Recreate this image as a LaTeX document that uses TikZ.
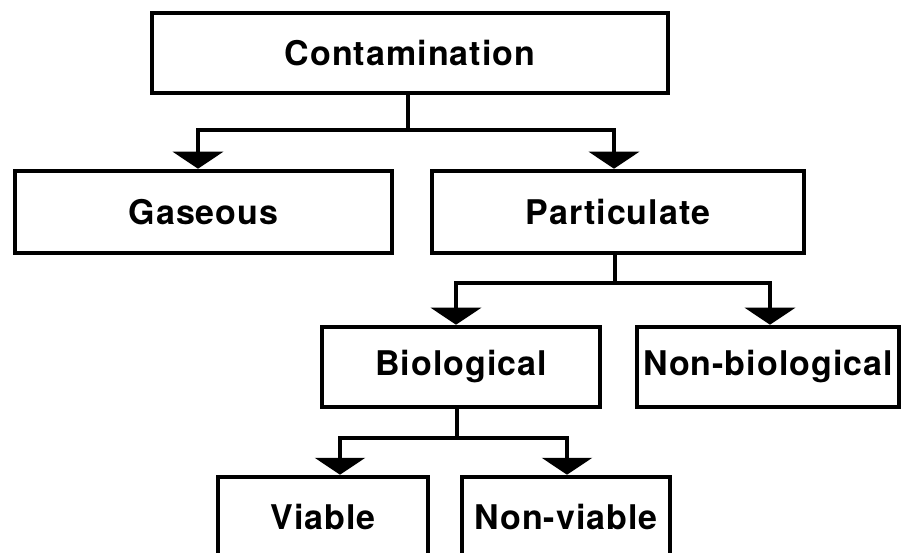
\documentclass[tikz,border=0pt]{standalone}
\usepackage{fontspec}
\setmainfont{TeX Gyre Heros}[LetterSpace=3]
\usetikzlibrary{arrows.meta}

\begin{document}
\begin{tikzpicture}[x=1pt, y=-1pt,
        box/.style={draw, line width=4.5pt, minimum height=80pt, inner sep=0pt,
            font=\fontsize{34}{40}\selectfont\bfseries},
        link/.style={line width=3.8pt},
        arr/.style={link, -{Triangle[width=50pt, length=17pt]}}]
        \useasboundingbox (0,0) rectangle (902,553);
        \clip (0,0) rectangle (902,553);
        \node[box, minimum width=516pt] (cont) at (410,53) {Contamination};
        \node[box, minimum width=377pt, minimum height=82pt] (gas) at (203.5,212) {Gaseous};
        \node[box, minimum width=372pt, minimum height=82pt] (part) at (618,212) {Particulate};
        \node[box, minimum width=278pt] (bio) at (461,367) {Biological};
        \node[box, minimum width=262pt] (nonbio) at (768,367) {Non-biological};
        \node[box, minimum width=210pt] (via) at (323,517) {Viable};
        \node[box, minimum width=208pt] (nonvia) at (566,517) {Non-viable};
        \coordinate (j1) at (408,130);
        \coordinate (j2) at (615,283);
        \coordinate (j3) at (457,438);
        \draw[link] ([xshift=-2pt]cont.south) -- (j1);
        \draw[arr] (j1) -| ([xshift=-5.5pt]gas.north);
        \draw[arr] (j1) -| ([xshift=-4pt]part.north);
        \draw[link] ([xshift=-3pt]part.south) -- (j2);
        \draw[arr] (j2) -| ([xshift=-5pt]bio.north);
        \draw[arr] (j2) -| ([xshift=2pt]nonbio.north);
        \draw[link] ([xshift=-4pt]bio.south) -- (j3);
        \draw[arr] (j3) -| ([xshift=17pt]via.north);
        \draw[arr] (j3) -| ([xshift=1pt]nonvia.north);
    \end{tikzpicture}
\end{document}
